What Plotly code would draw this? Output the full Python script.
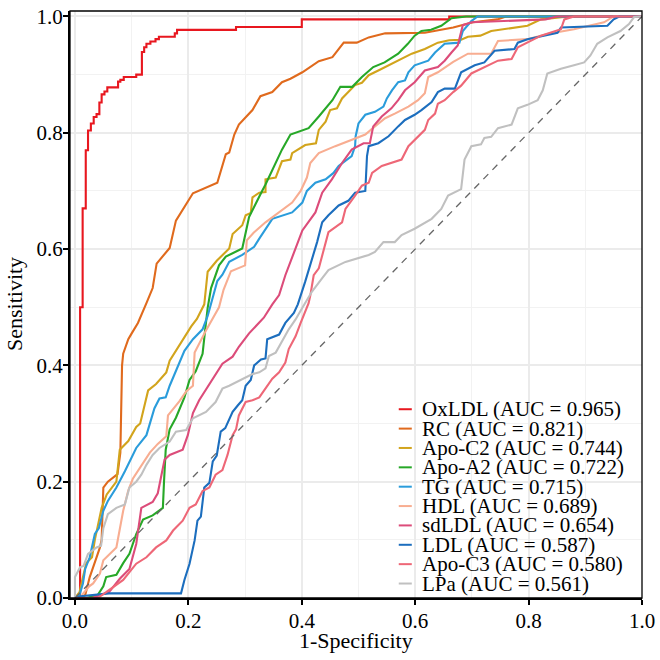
import plotly.graph_objects as go

names = ["OxLDL", "RC", "Apo-C2", "Apo-A2", "TG", "HDL", "sdLDL", "LDL", "Apo-C3", "LPa"]
aucs = [0.965, 0.821, 0.744, 0.722, 0.715, 0.689, 0.654, 0.587, 0.580, 0.561]
colors = ["#E8171F", "#E06A1D", "#D2A41C", "#27A828", "#2A9CDB", "#F8AD91",
          "#DC4C7A", "#1C6EBE", "#EE6777", "#C0C0C0"]
x_title = "1-Specificity"
y_title = "Sensitivity"

oxldl_x = [0, 0.009, 0.009, 0.0135, 0.0135, 0.019, 0.019, 0.023, 0.023, 0.028, 0.028, 0.033, 0.033, 0.038, 0.038,
           0.043, 0.043, 0.047, 0.047, 0.052, 0.052, 0.057, 0.057, 0.076, 0.076, 0.080, 0.080, 0.086, 0.086,
           0.108, 0.108, 0.118, 0.118, 0.122, 0.122, 0.126, 0.126, 0.133, 0.133, 0.142, 0.142, 0.148, 0.148,
           0.176, 0.176, 0.180, 0.180, 0.284, 0.284, 0.40, 0.40, 0.66, 0.66, 1.0]
oxldl_y = [0, 0, 0.50, 0.50, 0.67, 0.67, 0.77, 0.77, 0.804, 0.804, 0.816, 0.816, 0.827, 0.827, 0.832,
           0.832, 0.852, 0.852, 0.866, 0.866, 0.871, 0.871, 0.878, 0.878, 0.888, 0.888, 0.891, 0.891, 0.896,
           0.896, 0.900, 0.900, 0.939, 0.939, 0.947, 0.947, 0.953, 0.953, 0.957, 0.957, 0.961, 0.961, 0.965,
           0.965, 0.971, 0.971, 0.977, 0.977, 0.982, 0.982, 0.995, 0.995, 1.0, 1.0]

rc_x = [0, 0.012, 0.018, 0.026, 0.038, 0.044, 0.047, 0.050, 0.058, 0.075, 0.080, 0.083, 0.085, 0.094, 0.100,
        0.111, 0.126, 0.137, 0.144, 0.167, 0.178, 0.208, 0.251, 0.266, 0.272, 0.281, 0.289, 0.313, 0.327, 0.348,
        0.365, 0.380, 0.401, 0.430, 0.454, 0.474, 0.497, 0.518, 0.547, 0.617, 0.667, 0.702, 0.745, 0.76, 1.0]
rc_y = [0, 0.0, 0.005, 0.036, 0.07, 0.087, 0.10, 0.19, 0.20, 0.213, 0.25, 0.40, 0.42, 0.445, 0.455,
        0.473, 0.507, 0.533, 0.575, 0.602, 0.649, 0.696, 0.714, 0.763, 0.766, 0.797, 0.814, 0.839, 0.863, 0.870,
        0.887, 0.893, 0.904, 0.923, 0.930, 0.955, 0.955, 0.964, 0.971, 0.972, 0.981, 0.990, 0.995, 1.0, 1.0]

apoc2_x = [0, 0.008, 0.015, 0.020, 0.030, 0.035, 0.047, 0.056, 0.073, 0.079, 0.094, 0.108, 0.115, 0.129, 0.143,
           0.161, 0.167, 0.190, 0.205, 0.215, 0.228, 0.234, 0.243, 0.250, 0.272, 0.278, 0.295, 0.301, 0.310,
           0.313, 0.325, 0.336, 0.336, 0.354, 0.365, 0.380, 0.383, 0.406, 0.425, 0.430, 0.442, 0.450, 0.462,
           0.471, 0.482, 0.494, 0.506, 0.518, 0.535, 0.553, 0.570, 0.594, 0.617, 0.640, 0.660, 0.681, 0.693,
           0.715, 0.734, 0.798, 0.822, 0.857, 0.87, 1.0]
apoc2_y = [0, 0.01, 0.04, 0.06, 0.07, 0.10, 0.155, 0.178, 0.20, 0.255, 0.27, 0.294, 0.30, 0.357, 0.368,
           0.388, 0.408, 0.445, 0.467, 0.48, 0.505, 0.561, 0.572, 0.58, 0.601, 0.626, 0.641, 0.658, 0.662,
           0.689, 0.697, 0.698, 0.720, 0.723, 0.751, 0.754, 0.765, 0.779, 0.782, 0.805, 0.819, 0.839, 0.842,
           0.859, 0.870, 0.882, 0.886, 0.899, 0.907, 0.916, 0.924, 0.936, 0.944, 0.955, 0.959, 0.960, 0.965,
           0.967, 0.975, 0.984, 0.995, 0.998, 1.0, 1.0]

apoa2_x = [0, 0.02, 0.04, 0.05, 0.055, 0.073, 0.085, 0.096, 0.108, 0.120, 0.137, 0.155, 0.157, 0.160, 0.167,
           0.178, 0.193, 0.202, 0.213, 0.225, 0.230, 0.234, 0.240, 0.254, 0.266, 0.295, 0.307, 0.319, 0.330,
           0.336, 0.348, 0.365, 0.380, 0.412, 0.430, 0.454, 0.468, 0.489, 0.506, 0.526, 0.546, 0.570, 0.587,
           0.599, 0.611, 0.628, 0.646, 0.664, 0.69, 1.0]
apoa2_y = [0, 0.0, 0.005, 0.02, 0.036, 0.04, 0.06, 0.076, 0.110, 0.135, 0.142, 0.155, 0.20, 0.255, 0.290,
           0.310, 0.345, 0.375, 0.39, 0.42, 0.465, 0.499, 0.533, 0.572, 0.587, 0.601, 0.655, 0.680, 0.700,
           0.711, 0.737, 0.771, 0.797, 0.808, 0.828, 0.856, 0.879, 0.879, 0.896, 0.913, 0.921, 0.936, 0.953,
           0.967, 0.975, 0.977, 0.984, 0.997, 1.0, 1.0]

tg_x = [0, 0.008, 0.014, 0.018, 0.026, 0.035, 0.042, 0.050, 0.058, 0.073, 0.088, 0.096, 0.108, 0.126, 0.140,
        0.149, 0.160, 0.167, 0.180, 0.193, 0.208, 0.225, 0.234, 0.240, 0.251, 0.260, 0.272, 0.295, 0.316,
        0.325, 0.348, 0.383, 0.401, 0.409, 0.424, 0.442, 0.456, 0.465, 0.488, 0.494, 0.495, 0.500, 0.512,
        0.529, 0.544, 0.550, 0.559, 0.570, 0.582, 0.588, 0.599, 0.623, 0.635, 0.652, 0.678, 0.684, 0.699,
        0.71, 1.0]
tg_y = [0, 0.005, 0.025, 0.05, 0.07, 0.11, 0.12, 0.15, 0.167, 0.19, 0.218, 0.235, 0.258, 0.28, 0.326,
        0.343, 0.345, 0.365, 0.394, 0.425, 0.445, 0.462, 0.485, 0.505, 0.545, 0.556, 0.578, 0.590, 0.604,
        0.618, 0.652, 0.663, 0.680, 0.700, 0.714, 0.720, 0.731, 0.743, 0.760, 0.777, 0.794, 0.816, 0.831,
        0.836, 0.845, 0.859, 0.873, 0.887, 0.890, 0.904, 0.916, 0.924, 0.938, 0.953, 0.955, 0.975, 0.992,
        1.0, 1.0]

hdl_x = [0, 0.01, 0.014, 0.025, 0.032, 0.044, 0.050, 0.073, 0.085, 0.094, 0.102, 0.120, 0.132, 0.146, 0.161,
         0.164, 0.184, 0.196, 0.208, 0.211, 0.225, 0.231, 0.254, 0.262, 0.275, 0.300, 0.303, 0.315, 0.336,
         0.360, 0.383, 0.398, 0.409, 0.415, 0.430, 0.459, 0.494, 0.512, 0.529, 0.547, 0.564, 0.588, 0.605,
         0.617, 0.623, 0.640, 0.667, 0.693, 0.734, 0.746, 0.798, 0.833, 0.880, 0.933, 0.95, 1.0]
hdl_y = [0, 0.0, 0.007, 0.02, 0.025, 0.042, 0.065, 0.087, 0.150, 0.185, 0.205, 0.233, 0.250, 0.265, 0.278,
         0.314, 0.338, 0.355, 0.365, 0.422, 0.450, 0.46, 0.50, 0.53, 0.562, 0.572, 0.615, 0.628, 0.646,
         0.663, 0.680, 0.700, 0.723, 0.748, 0.765, 0.777, 0.791, 0.797, 0.811, 0.825, 0.833, 0.845, 0.856,
         0.868, 0.896, 0.904, 0.922, 0.936, 0.936, 0.958, 0.961, 0.970, 0.978, 0.990, 1.0, 1.0]

sdldl_x = [0, 0.03, 0.06, 0.079, 0.096, 0.108, 0.117, 0.137, 0.146, 0.158, 0.167, 0.190, 0.199, 0.208, 0.219,
           0.231, 0.248, 0.260, 0.278, 0.289, 0.307, 0.319, 0.333, 0.348, 0.360, 0.371, 0.386, 0.401, 0.424,
           0.436, 0.453, 0.471, 0.488, 0.509, 0.520, 0.526, 0.541, 0.558, 0.570, 0.582, 0.599, 0.617, 0.640,
           0.652, 0.664, 0.675, 0.684, 0.70, 0.83, 0.85, 1.0]
sdldl_y = [0, 0.0, 0.01, 0.033, 0.050, 0.093, 0.155, 0.165, 0.18, 0.238, 0.246, 0.255, 0.28, 0.318, 0.340,
           0.358, 0.385, 0.403, 0.415, 0.432, 0.455, 0.468, 0.482, 0.505, 0.521, 0.555, 0.595, 0.632, 0.663,
           0.697, 0.720, 0.748, 0.771, 0.782, 0.782, 0.811, 0.828, 0.842, 0.856, 0.873, 0.887, 0.907, 0.913,
           0.924, 0.938, 0.95, 0.985, 0.99, 0.995, 1.0, 1.0]

ldl_x = [0, 0.01, 0.06, 0.187, 0.193, 0.202, 0.211, 0.216, 0.222, 0.228, 0.237, 0.243, 0.250, 0.257, 0.265,
         0.278, 0.287, 0.295, 0.301, 0.310, 0.316, 0.328, 0.336, 0.339, 0.360, 0.371, 0.386, 0.393, 0.406,
         0.427, 0.436, 0.447, 0.465, 0.482, 0.494, 0.512, 0.515, 0.518, 0.535, 0.553, 0.570, 0.582, 0.599,
         0.611, 0.629, 0.640, 0.652, 0.670, 0.681, 0.705, 0.722, 0.740, 0.775, 0.781, 0.798, 0.827, 0.851,
         0.857, 0.939, 0.950, 0.96, 1.0]
ldl_y = [0, 0.003, 0.008, 0.008, 0.031, 0.059, 0.099, 0.133, 0.14, 0.190, 0.198, 0.235, 0.245, 0.286, 0.292,
         0.32, 0.331, 0.34, 0.365, 0.375, 0.400, 0.41, 0.412, 0.445, 0.453, 0.473, 0.49, 0.505, 0.544,
         0.612, 0.646, 0.658, 0.675, 0.683, 0.697, 0.700, 0.760, 0.777, 0.782, 0.794, 0.811, 0.822, 0.831,
         0.839, 0.853, 0.870, 0.876, 0.876, 0.904, 0.916, 0.921, 0.941, 0.944, 0.955, 0.961, 0.967, 0.972,
         0.981, 0.984, 0.995, 1.0, 1.0]

apoc3_x = [0, 0.04, 0.055, 0.067, 0.085, 0.108, 0.126, 0.143, 0.161, 0.173, 0.190, 0.202, 0.213, 0.225, 0.237,
           0.248, 0.260, 0.269, 0.278, 0.284, 0.289, 0.301, 0.313, 0.325, 0.336, 0.348, 0.360, 0.371, 0.377,
           0.389, 0.398, 0.412, 0.415, 0.421, 0.430, 0.447, 0.471, 0.477, 0.494, 0.506, 0.518, 0.524, 0.541,
           0.558, 0.576, 0.588, 0.605, 0.617, 0.623, 0.635, 0.640, 0.652, 0.667, 0.681, 0.699, 0.716, 0.746,
           0.770, 0.781, 0.822, 0.857, 0.863, 0.88, 1.0]
apoc3_y = [0, 0.0, 0.01, 0.019, 0.031, 0.059, 0.070, 0.087, 0.099, 0.116, 0.133, 0.155, 0.161, 0.184, 0.19,
           0.212, 0.22, 0.246, 0.28, 0.29, 0.314, 0.337, 0.34, 0.345, 0.36, 0.377, 0.388, 0.405, 0.428,
           0.45, 0.473, 0.507, 0.52, 0.555, 0.567, 0.629, 0.646, 0.669, 0.692, 0.709, 0.714, 0.731, 0.743,
           0.748, 0.754, 0.777, 0.794, 0.805, 0.822, 0.833, 0.850, 0.856, 0.870, 0.881, 0.902, 0.910, 0.924,
           0.927, 0.947, 0.967, 0.978, 0.995, 1.0, 1.0]

lpa_x = [0, 0.0, 0.009, 0.015, 0.023, 0.038, 0.046, 0.05, 0.058, 0.073, 0.088, 0.096, 0.108, 0.117, 0.126,
         0.137, 0.149, 0.167, 0.178, 0.196, 0.208, 0.231, 0.248, 0.260, 0.272, 0.295, 0.313, 0.325, 0.336,
         0.342, 0.354, 0.377, 0.389, 0.401, 0.418, 0.436, 0.447, 0.477, 0.500, 0.518, 0.529, 0.544, 0.564,
         0.576, 0.599, 0.617, 0.629, 0.646, 0.658, 0.681, 0.687, 0.699, 0.716, 0.722, 0.734, 0.746, 0.770,
         0.781, 0.798, 0.816, 0.825, 0.833, 0.857, 0.880, 0.898, 0.909, 0.921, 0.939, 0.962, 0.977, 0.986, 1.0]
lpa_y = [0, 0.036, 0.053, 0.055, 0.076, 0.087, 0.09, 0.12, 0.144, 0.155, 0.161, 0.19, 0.20, 0.212, 0.229,
         0.246, 0.258, 0.269, 0.286, 0.289, 0.309, 0.32, 0.337, 0.36, 0.365, 0.377, 0.385, 0.388, 0.395,
         0.416, 0.422, 0.462, 0.479, 0.499, 0.527, 0.550, 0.564, 0.578, 0.584, 0.590, 0.595, 0.612, 0.612,
         0.624, 0.635, 0.646, 0.652, 0.669, 0.692, 0.703, 0.754, 0.777, 0.780, 0.791, 0.793, 0.808, 0.814,
         0.842, 0.848, 0.856, 0.873, 0.902, 0.910, 0.916, 0.921, 0.933, 0.953, 0.964, 0.975, 0.987, 0.999, 1.0]

diag_x = [0, 1]
diag_y = [0, 1]

series_x = [oxldl_x, rc_x, apoc2_x, apoa2_x, tg_x, hdl_x, sdldl_x, ldl_x, apoc3_x, lpa_x]
series_y = [oxldl_y, rc_y, apoc2_y, apoa2_y, tg_y, hdl_y, sdldl_y, ldl_y, apoc3_y, lpa_y]

FONT = "Liberation Serif, Times New Roman, serif"

fig = go.Figure()
for nm, c, xs, ys in zip(names, colors, series_x, series_y):
    fig.add_trace(go.Scatter(x=xs, y=ys, mode="lines", name=nm,
                             line=dict(color=c, width=2.1), showlegend=False))

fig.add_trace(go.Scatter(x=diag_x, y=diag_y, mode="lines", showlegend=False,
                         line=dict(color="#666666", width=1.3, dash="7px,6px")))

# legend (drawn manually for tight spacing)
leg_top = 0.3246
leg_step = 0.0333
for i, (nm, auc, c) in enumerate(zip(names, aucs, colors)):
    yy = leg_top - i * leg_step
    fig.add_shape(type="line", xref="x", yref="y", x0=0.571, x1=0.594, y0=yy, y1=yy,
                  line=dict(color=c, width=2))
    fig.add_annotation(x=0.608, y=yy, xref="x", yref="y", xanchor="left", yanchor="middle",
                       text=f"{nm} (AUC = {auc:.3f})", showarrow=False,
                       font=dict(family=FONT, size=21, color="black"))

# axis titles
fig.add_annotation(x=0.5, y=-0.073, xref="paper", yref="paper", xanchor="center", yanchor="middle",
                   text=x_title, showarrow=False, font=dict(family=FONT, size=22, color="black"))
fig.add_annotation(x=-0.097, y=0.5, xref="paper", yref="paper", xanchor="center", yanchor="middle",
                   text=y_title, textangle=-90, showarrow=False,
                   font=dict(family=FONT, size=22, color="black"))

# panel border
fig.add_shape(type="rect", xref="paper", yref="paper", x0=0, x1=1, y0=0, y1=1,
              line=dict(color="black", width=1.3), layer="above")

ticks = [0, 0.2, 0.4, 0.6, 0.8, 1.0]
tick_text = ["0.0", "0.2", "0.4", "0.6", "0.8", "1.0"]

axis_common = dict(
    showgrid=True, gridcolor="#EBEBEB", gridwidth=1.5,
    minor=dict(dtick=0.1, showgrid=True, gridcolor="#F2F2F2", gridwidth=1),
    zeroline=False, showline=True, linecolor="black", linewidth=2,
    ticks="outside", ticklen=5, tickwidth=1.5, tickcolor="black",
    tickvals=ticks, ticktext=tick_text, ticklabeloverflow="allow",
    tickfont=dict(family=FONT, size=21, color="black"),
)

fig.update_layout(
    width=660, height=660,
    margin=dict(l=70, r=17, t=5, b=62),
    paper_bgcolor="white", plot_bgcolor="white",
    xaxis=dict(range=[-0.0088, 1.0], ticklabelstandoff=-2, **axis_common),
    yaxis=dict(range=[0, 1.0094], ticklabelstandoff=-4, **axis_common),
)

fig.write_html("out.html")
